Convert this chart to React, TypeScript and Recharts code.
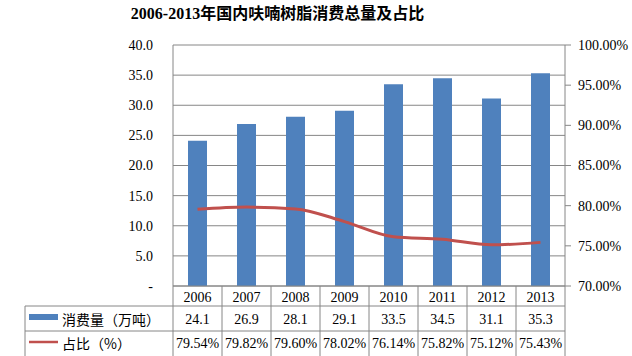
import React from 'react';
import { ComposedChart, Bar, Line, XAxis, YAxis, CartesianGrid } from 'recharts';

const years = ['2006', '2007', '2008', '2009', '2010', '2011', '2012', '2013'];
const consumption = [24.1, 26.9, 28.1, 29.1, 33.5, 34.5, 31.1, 35.3];
const share = [79.54, 79.82, 79.6, 78.02, 76.14, 75.82, 75.12, 75.43];
const leftTicks = [0, 5, 10, 15, 20, 25, 30, 35, 40];
const rightTicks = [70, 75, 80, 85, 90, 95, 100];
const seriesNames = ['消费量（万吨）', '占比（%）'];
const title = '2006-2013年国内呋喃树脂消费总量及占比';

const data = years.map((y, i) => ({ year: y, consumption: consumption[i], share: share[i] }));

const W = 632;
const H = 356;
const PLOT_LEFT = 173;
const PLOT_RIGHT = 565;
const PLOT_TOP = 45;
const PLOT_BOTTOM = 286;
const LEFT_AXIS_W = 60;
const RIGHT_AXIS_W = 60;
const TABLE_LEFT = 25;
const ROW1 = 306;
const ROW2 = 331;
const GRID = '#868686';
const FONT = "'Liberation Serif', 'Noto Sans CJK SC', serif";

const TableTick = (props: any) => {
  const { x, payload, index } = props;
  const n = years.length;
  const colW = (PLOT_RIGHT - PLOT_LEFT) / n;
  const right = x + colW / 2;
  const i = typeof index === 'number' ? index : years.indexOf(payload.value);
  return (
    <g>
      {i === 0 && (
        <g>
          <line x1={PLOT_LEFT} x2={PLOT_LEFT} y1={PLOT_BOTTOM} y2={H} stroke={GRID} />
          <line x1={TABLE_LEFT} x2={TABLE_LEFT} y1={ROW1} y2={H} stroke={GRID} />
          <line x1={TABLE_LEFT} x2={PLOT_RIGHT} y1={ROW1} y2={ROW1} stroke={GRID} />
          <line x1={TABLE_LEFT} x2={PLOT_RIGHT} y1={ROW2} y2={ROW2} stroke={GRID} />
          <rect x={29} y={314} width={29} height={6} fill="#4F81BD" />
          <text x={62} y={319} dominantBaseline="central" fontSize={14} fontFamily="'Noto Sans CJK SC', sans-serif" fill="#000">{seriesNames[0]}</text>
          <line x1={29} x2={58} y1={342} y2={342} stroke="#C0504D" strokeWidth={2.5} />
          <text x={62} y={343} dominantBaseline="central" fontSize={14} fontFamily="'Noto Sans CJK SC', sans-serif" fill="#000">{seriesNames[1]}</text>
        </g>
      )}
      <line x1={right} x2={right} y1={PLOT_BOTTOM} y2={H} stroke={GRID} />
      <text x={x} y={297} textAnchor="middle" dominantBaseline="central" fontSize={14} fontFamily={FONT} fill="#000">{payload.value}</text>
      <text x={x} y={319} textAnchor="middle" dominantBaseline="central" fontSize={14} fontFamily={FONT} fill="#000">{consumption[i].toFixed(1)}</text>
      <text x={x} y={343} textAnchor="middle" dominantBaseline="central" fontSize={14} fontFamily={FONT} fill="#000">{share[i].toFixed(2) + '%'}</text>
    </g>
  );
};

export default function App() {
  return (
    <div style={{ position: 'absolute', left: 0, top: 0, width: W, height: H, background: '#fff' }}>
      <div
        style={{
          position: 'absolute',
          left: 0,
          width: 555,
          top: 3,
          textAlign: 'center',
          fontFamily: FONT,
          fontWeight: 'bold',
          fontSize: 16,
          lineHeight: '22px',
          color: '#000',
        }}
      >
        {title}
      </div>
      <ComposedChart
        width={W}
        height={H}
        data={data}
        margin={{ top: PLOT_TOP, left: PLOT_LEFT - LEFT_AXIS_W, right: W - PLOT_RIGHT - RIGHT_AXIS_W, bottom: 0 }}
        barCategoryGap="30%"
      >
        <CartesianGrid yAxisId="left" vertical={false} stroke={GRID} />
        <XAxis
          dataKey="year"
          height={H - PLOT_BOTTOM}
          axisLine={{ stroke: GRID }}
          tickLine={false}
          tickSize={0}
          tickMargin={0}
          interval={0}
          tick={<TableTick />}
        />
        <YAxis
          yAxisId="left"
          orientation="left"
          width={LEFT_AXIS_W}
          domain={[0, 40]}
          ticks={leftTicks}
          axisLine={{ stroke: GRID }}
          tickLine={false}
          tickSize={0}
          tickMargin={20}
          tick={{ fontSize: 14, fontFamily: FONT, fill: '#000' }}
          tickFormatter={(v: number) => (v === 0 ? '-' : v.toFixed(1))}
        />
        <YAxis
          yAxisId="right"
          orientation="right"
          width={RIGHT_AXIS_W}
          domain={[70, 100]}
          ticks={rightTicks}
          axisLine={{ stroke: GRID }}
          tickLine={{ stroke: GRID }}
          tickSize={6}
          tickMargin={7}
          tick={{ fontSize: 14, fontFamily: FONT, fill: '#000' }}
          tickFormatter={(v: number) => v.toFixed(2) + '%'}
        />
        <Bar yAxisId="left" dataKey="consumption" fill="#4F81BD" barSize={19} isAnimationActive={false} />
        <Line
          yAxisId="right"
          dataKey="share"
          type="monotone"
          stroke="#C0504D"
          strokeWidth={3}
          dot={false}
          isAnimationActive={false}
        />
      </ComposedChart>
    </div>
  );
}
